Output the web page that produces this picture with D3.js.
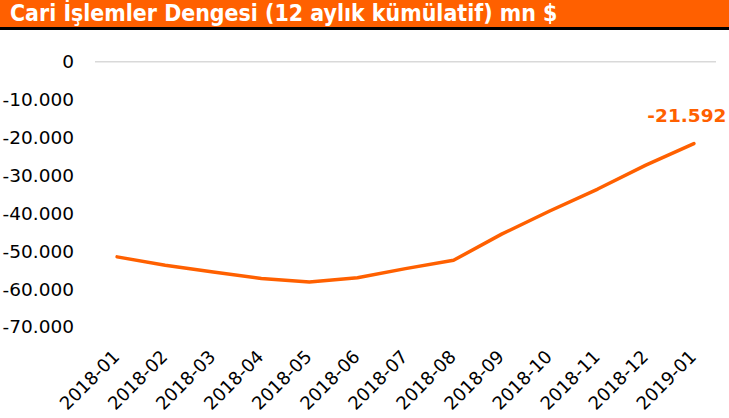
<!DOCTYPE html>
<html>
<head>
<meta charset="utf-8">
<script src="https://cdn.jsdelivr.net/npm/d3@7"></script>
<style>
  body { margin: 0; background: #fff; }
  svg { display: block; }
</style>
</head>
<body>
<script>
var months = ["2018-01", "2018-02", "2018-03", "2018-04", "2018-05", "2018-06", "2018-07",
              "2018-08", "2018-09", "2018-10", "2018-11", "2018-12", "2019-01"];
var balance = [-51500, -53700, -55500, -57200, -58100, -57000, -54600,
               -52400, -45500, -39400, -33600, -27300, -21592];
var yTicks = [0, -10000, -20000, -30000, -40000, -50000, -60000, -70000];
var title = "Cari İşlemler Dengesi (12 aylık kümülatif) mn $";

var width = 729, height = 418;
var orange = "#ff6000";
var fontFam = "'DejaVu Sans', sans-serif";

var svg = d3.select("body").append("svg")
    .attr("width", width)
    .attr("height", height);

// title bar
svg.append("rect")
    .attr("x", 0).attr("y", 0)
    .attr("width", width).attr("height", 27)
    .attr("fill", orange);
svg.append("rect")
    .attr("x", 0).attr("y", 27)
    .attr("width", width).attr("height", 3)
    .attr("fill", "#000");
svg.append("text")
    .attr("x", 10).attr("y", 21)
    .attr("fill", "#fff")
    .attr("font-family", "'DejaVu Sans Condensed', 'DejaVu Sans', sans-serif")
    .attr("font-weight", "bold")
    .attr("font-size", 22.9)
    .text(title);

var x = d3.scalePoint()
    .domain(months)
    .range([95, 716])
    .padding(0.46);

var y = d3.scaleLinear()
    .domain([-70000, 0])
    .range([327, 61.7]);

var fmt = function (d) {
    return d3.format(",")(d).replace(/,/g, ".").replace("−", "-");
};

// zero grid line
svg.append("line")
    .attr("x1", 95).attr("x2", 716)
    .attr("y1", y(0)).attr("y2", y(0))
    .attr("stroke", "#d9d9d9")
    .attr("stroke-width", 1.5);

// y axis labels
var yAxis = d3.axisLeft(y)
    .tickValues(yTicks)
    .tickSize(0)
    .tickPadding(0)
    .tickFormat(fmt);

var gy = svg.append("g")
    .attr("transform", "translate(74,0)")
    .call(yAxis);
gy.select(".domain").remove();
gy.selectAll("text")
    .attr("font-family", fontFam)
    .attr("font-size", 18.5)
    .attr("fill", "#000");

// x axis labels
var xAxis = d3.axisBottom(x)
    .tickSize(0)
    .tickPadding(0);

var gx = svg.append("g")
    .attr("transform", "translate(0,349)")
    .call(xAxis);
gx.select(".domain").remove();
gx.selectAll("text")
    .attr("font-family", fontFam)
    .attr("font-size", 18)
    .attr("fill", "#000")
    .attr("text-anchor", "end")
    .attr("dy", "0.7em")
    .attr("transform", "translate(-6,0) rotate(-45)");

// series line
var line = d3.line()
    .x(function (d, i) { return x(months[i]); })
    .y(function (d) { return y(d); });

svg.append("path")
    .datum(balance)
    .attr("d", line)
    .attr("fill", "none")
    .attr("stroke", orange)
    .attr("stroke-width", 3.5)
    .attr("stroke-linejoin", "round")
    .attr("stroke-linecap", "round");

// last value label
var last = balance.length - 1;
svg.append("text")
    .attr("x", x(months[last]) - 7)
    .attr("y", 122)
    .attr("text-anchor", "middle")
    .attr("fill", orange)
    .attr("font-family", fontFam)
    .attr("font-weight", "bold")
    .attr("font-size", 18.5)
    .text(fmt(balance[last]));
</script>
</body>
</html>
